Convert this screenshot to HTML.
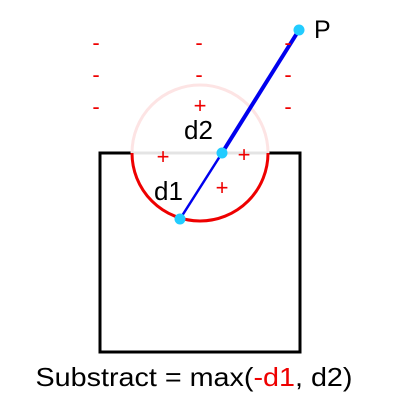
<!DOCTYPE html>
<html><head><meta charset="utf-8"><style>
html,body{margin:0;padding:0;background:#fff;}
svg text{font-family:"Liberation Sans",sans-serif;}
</style></head><body>
<svg width="400" height="400" viewBox="0 0 400 400">
<rect x="100" y="153" width="200" height="199" fill="none" stroke="#000" stroke-width="3"/>
<path d="M132,153 A68,68 0 0 1 268,153" fill="none" stroke="#fde4e4" stroke-width="3"/>
<line x1="132" y1="153" x2="268" y2="153" stroke="#e4e4e4" stroke-width="3"/>
<path d="M132,153 A68,68 0 0 0 268,153" fill="none" stroke="#e00" stroke-width="3"/>
<line x1="180" y1="219" x2="222" y2="153" stroke="#0000ee" stroke-width="2.5"/>
<line x1="222" y1="153" x2="299" y2="30" stroke="#0000ee" stroke-width="4"/>
<g fill="#e00" font-size="22" text-anchor="middle">
<text x="96" y="50">-</text><text x="199" y="50">-</text><text x="288" y="50">-</text>
<text x="96" y="82">-</text><text x="199" y="82">-</text><text x="288" y="82">-</text>
<text x="96" y="114">-</text><text x="288" y="114">-</text>
<text x="200" y="113" font-size="22">+</text>
<text x="163" y="164" font-size="22">+</text>
<text x="244" y="162" font-size="22">+</text>
<text x="222" y="195" font-size="22">+</text>
</g>
<circle cx="299" cy="30" r="5.5" fill="#22ccff"/>
<circle cx="222" cy="153" r="5.5" fill="#22ccff"/>
<circle cx="180" cy="219" r="5.5" fill="#22ccff"/>
<text x="314" y="38" font-size="25">P</text>
<text x="184" y="139" font-size="26">d2</text>
<text x="154" y="200" font-size="26">d1</text>
<text x="194" y="386" font-size="26" text-anchor="middle" textLength="317" lengthAdjust="spacingAndGlyphs">Substract = max(<tspan fill="#e00">-d1</tspan>, d2)</text>
</svg>
</body></html>
